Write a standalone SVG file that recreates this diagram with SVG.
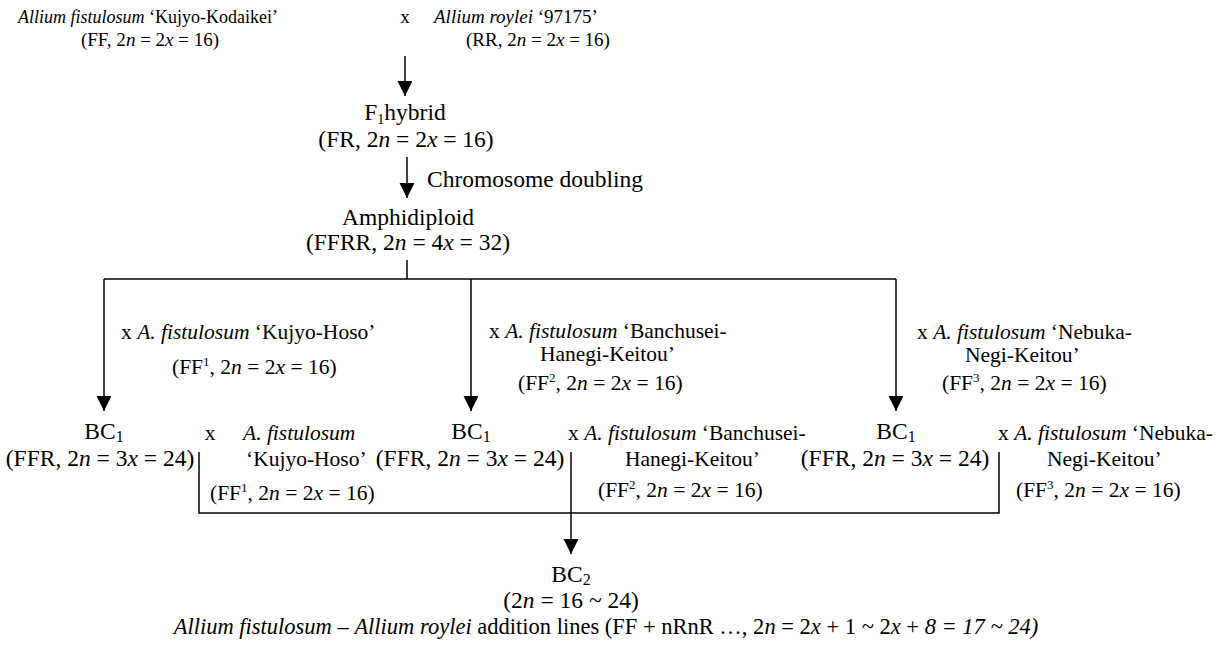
<svg xmlns="http://www.w3.org/2000/svg" width="1217" height="649" viewBox="0 0 1217 649">
<style>
.t{font-family:'Liberation Serif','Times New Roman',serif;fill:#000}
.s18{font-size:18px}
.s19{font-size:19px}
.s21{font-size:21.5px}
.s23{font-size:23.5px}
.s22{font-size:22.5px}
.i{font-style:italic}
.ln{stroke:#000;stroke-width:1.5;fill:none}
.ar{stroke:#000;stroke-width:1.5;fill:none;marker-end:url(#ah)}
</style>
<defs>
<marker id="ah" markerUnits="userSpaceOnUse" markerWidth="16" markerHeight="16" viewBox="0 0 14 15" refX="14" refY="7" orient="auto">
<path d="M0,0 L14,7 L0,14 Z" fill="#000"/>
</marker>
</defs>
<rect width="1217" height="649" fill="#fff"/>

<g id="connectors">
<line class="ar" x1="405" y1="56" x2="405" y2="96"/>
<line class="ar" x1="407" y1="157" x2="407" y2="198"/>
<line class="ln" x1="407" y1="260" x2="407" y2="279"/>
<line class="ln" x1="104" y1="279" x2="896" y2="279"/>
<line class="ar" x1="104" y1="279" x2="104" y2="411"/>
<line class="ar" x1="471" y1="279" x2="471" y2="411"/>
<line class="ar" x1="896" y1="279" x2="896" y2="411"/>
<polyline class="ln" points="199,452 199,513 999,513 999,452"/>
<line class="ar" x1="571" y1="452" x2="571" y2="554"/>
</g>

<g id="parent-fistulosum">
<text class="t s18" x="148" y="23" text-anchor="middle"><tspan class="i">Allium fistulosum</tspan> ‘Kujyo-Kodaikei’</text>
<text class="t s19" x="150" y="46" text-anchor="middle">(FF, 2<tspan class="i">n</tspan> = 2<tspan class="i">x</tspan> = 16)</text>
</g>
<g id="cross-top">
<text class="t s19" x="405" y="23" text-anchor="middle">x</text>
</g>
<g id="parent-roylei">
<text class="t s19" x="434" y="23"><tspan class="i">Allium roylei</tspan> ‘97175’</text>
<text class="t s19" x="538" y="46" text-anchor="middle">(RR, 2<tspan class="i">n</tspan> = 2<tspan class="i">x</tspan> = 16)</text>
</g>

<g id="f1-hybrid">
<text class="t s23" x="405" y="120" text-anchor="middle">F<tspan font-size="14" dy="4">1</tspan><tspan dy="-4">hybrid</tspan></text>
<text class="t s23" x="406" y="147" text-anchor="middle">(FR, 2<tspan class="i">n</tspan> = 2<tspan class="i">x</tspan> = 16)</text>
</g>
<g id="doubling-label">
<text class="t s23" x="427" y="187">Chromosome doubling</text>
</g>
<g id="amphidiploid">
<text class="t s23" x="408" y="225" text-anchor="middle">Amphidiploid</text>
<text class="t s23" x="408" y="250" text-anchor="middle">(FFRR, 2<tspan class="i">n</tspan> = 4<tspan class="i">x</tspan> = 32)</text>
</g>

<g id="label-kujyo-hoso">
<text class="t s21" x="121" y="339">x <tspan class="i">A. fistulosum</tspan> ‘Kujyo-Hoso’</text>
<text class="t s21" x="172" y="374">(FF<tspan font-size="13" dy="-8">1</tspan><tspan dy="8">, 2</tspan><tspan class="i">n</tspan> = 2<tspan class="i">x</tspan> = 16)</text>
</g>
<g id="label-banchusei">
<text class="t s21" x="489" y="338">x <tspan class="i">A. fistulosum</tspan> ‘Banchusei-</text>
<text class="t s21" x="540" y="361">Hanegi-Keitou’</text>
<text class="t s21" x="518" y="390">(FF<tspan font-size="13" dy="-8">2</tspan><tspan dy="8">, 2</tspan><tspan class="i">n</tspan> = 2<tspan class="i">x</tspan> = 16)</text>
</g>
<g id="label-nebuka">
<text class="t s21" x="917" y="339">x <tspan class="i">A. fistulosum</tspan> ‘Nebuka-</text>
<text class="t s21" x="965" y="362">Negi-Keitou’</text>
<text class="t s21" x="942" y="390">(FF<tspan font-size="13" dy="-8">3</tspan><tspan dy="8">, 2</tspan><tspan class="i">n</tspan> = 2<tspan class="i">x</tspan> = 16)</text>
</g>

<g id="bc1-left">
<text class="t s23" x="104" y="439" text-anchor="middle">BC<tspan font-size="16" dy="3">1</tspan></text>
<text class="t s23" x="100" y="466" text-anchor="middle">(FFR, 2<tspan class="i">n</tspan> = 3<tspan class="i">x</tspan> = 24)</text>
</g>
<g id="cross-left">
<text class="t s21" x="210" y="440" text-anchor="middle">x</text>
<text class="t s21 i" x="243" y="440">A. fistulosum</text>
<text class="t s21" x="246" y="466">‘Kujyo-Hoso’</text>
<text class="t s21" x="210" y="500">(FF<tspan font-size="13" dy="-8">1</tspan><tspan dy="8">, 2</tspan><tspan class="i">n</tspan> = 2<tspan class="i">x</tspan> = 16)</text>
</g>
<g id="bc1-middle">
<text class="t s23" x="471" y="439" text-anchor="middle">BC<tspan font-size="16" dy="3">1</tspan></text>
<text class="t s23" x="470" y="466" text-anchor="middle">(FFR, 2<tspan class="i">n</tspan> = 3<tspan class="i">x</tspan> = 24)</text>
</g>
<g id="cross-middle">
<text class="t s21" x="568" y="440">x <tspan class="i">A. fistulosum</tspan> ‘Banchusei-</text>
<text class="t s21" x="625" y="466">Hanegi-Keitou’</text>
<text class="t s21" x="598" y="497">(FF<tspan font-size="13" dy="-8">2</tspan><tspan dy="8">, 2</tspan><tspan class="i">n</tspan> = 2<tspan class="i">x</tspan> = 16)</text>
</g>
<g id="bc1-right">
<text class="t s23" x="896" y="439" text-anchor="middle">BC<tspan font-size="16" dy="3">1</tspan></text>
<text class="t s23" x="895" y="466" text-anchor="middle">(FFR, 2<tspan class="i">n</tspan> = 3<tspan class="i">x</tspan> = 24)</text>
</g>
<g id="cross-right">
<text class="t s21" x="998" y="440">x <tspan class="i">A. fistulosum</tspan> ‘Nebuka-</text>
<text class="t s21" x="1047" y="466">Negi-Keitou’</text>
<text class="t s21" x="1016" y="497">(FF<tspan font-size="13" dy="-8">3</tspan><tspan dy="8">, 2</tspan><tspan class="i">n</tspan> = 2<tspan class="i">x</tspan> = 16)</text>
</g>

<g id="bc2">
<text class="t s23" x="571" y="582" text-anchor="middle">BC<tspan font-size="16" dy="3">2</tspan></text>
<text class="t s23" x="571" y="608" text-anchor="middle">(2<tspan class="i">n</tspan> = 16 ~ 24)</text>
<text class="t s22" x="606" y="634" text-anchor="middle"><tspan class="i">Allium fistulosum</tspan> – <tspan class="i">Allium roylei</tspan> addition lines (FF + nRnR …, 2<tspan class="i">n</tspan> = 2<tspan class="i">x</tspan> + 1 ~ 2<tspan class="i">x</tspan> + <tspan class="i">8 = 17 ~ 24)</tspan></text>
</g>
</svg>
